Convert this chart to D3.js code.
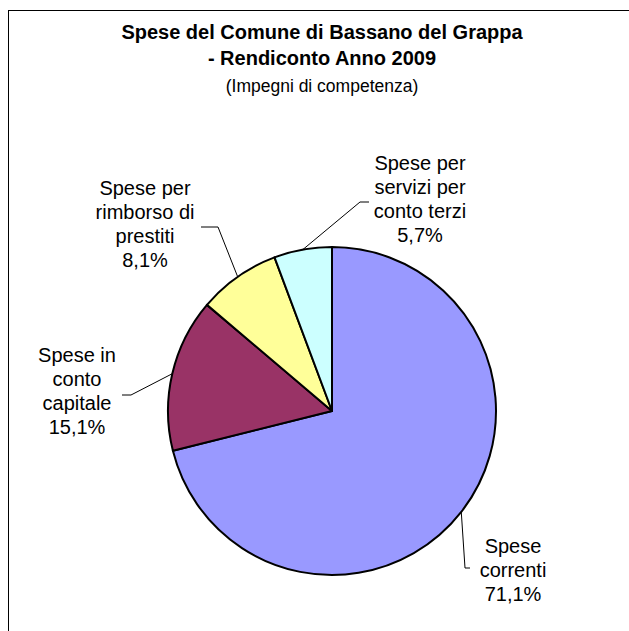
<!DOCTYPE html>
<html>
<head>
<meta charset="utf-8">
<script src="https://cdn.jsdelivr.net/npm/d3@7"></script>
<style>
  html, body { margin: 0; padding: 0; background: #fff; }
  svg { display: block; }
  text { font-family: "Liberation Sans", Arial, sans-serif; fill: #000; }
</style>
</head>
<body>
<svg id="chart" width="629" height="631"></svg>
<script>
// ---- data ----
const categories = [
  "Spese correnti",
  "Spese in conto capitale",
  "Spese per rimborso di prestiti",
  "Spese per servizi per conto terzi"
];
const values = [71.1, 15.1, 8.1, 5.7];
const labelLines = [
  ["Spese", "correnti"],
  ["Spese in", "conto", "capitale"],
  ["Spese per", "rimborso di", "prestiti"],
  ["Spese per", "servizi per", "conto terzi"]
];
const colors = ["#9999FF", "#993366", "#FFFF99", "#CCFFFF"];
const titleLines = ["Spese del Comune di Bassano del Grappa", "- Rendiconto Anno 2009"];
const subtitle = "(Impegni di competenza)";

// ---- layout ----
const W = 629, H = 631;
const cx = 332, cy = 411, R = 164;
const labelLayout = [
  { x: 513, y: 553, elbow: [465, 568], end: [470, 568] },
  { x: 77,  y: 362, elbow: [131, 395], end: [122, 395] },
  { x: 145, y: 195, elbow: [218, 227], end: [201, 227] },
  { x: 420, y: 170, elbow: [360, 202], end: [369, 202] }
];
const lineH = 24;
const labelFont = 20;

const svg = d3.select("#chart");

// border
svg.append("rect")
  .attr("x", 8.5).attr("y", 10.5)
  .attr("width", W + 20).attr("height", H + 20)
  .attr("fill", "none").attr("stroke", "#000").attr("stroke-width", 1);

// title
const title = svg.append("text").attr("text-anchor", "middle");
title.selectAll("tspan").data(titleLines).enter().append("tspan")
  .attr("x", 322).attr("y", (d, i) => 39 + i * 26)
  .attr("font-weight", "bold").attr("font-size", 20).text(d => d);
svg.append("text").attr("text-anchor", "middle")
  .attr("x", 322).attr("y", 92).attr("font-size", 17.5).text(subtitle);

// pie
const pie = d3.pie().sort(null).value(d => d).startAngle(0).endAngle(2 * Math.PI);
const arcs = pie(values);
const arc = d3.arc().innerRadius(0).outerRadius(R);
const g = svg.append("g").attr("transform", `translate(${cx},${cy})`);
g.selectAll("path").data(arcs).enter().append("path")
  .attr("d", arc)
  .attr("fill", (d, i) => colors[i])
  .attr("stroke", "#000").attr("stroke-width", 2).attr("stroke-linejoin", "round");

// leader lines + labels
const fmt = v => d3.format(".1f")(v).replace(".", ",") + "%";
arcs.forEach((a, i) => {
  const mid = (a.startAngle + a.endAngle) / 2;
  const sx = cx + R * Math.sin(mid), sy = cy - R * Math.cos(mid);
  const L = labelLayout[i];
  svg.append("polyline")
    .attr("points", [[sx, sy], L.elbow, L.end].map(p => p.join(",")).join(" "))
    .attr("fill", "none").attr("stroke", "#000").attr("stroke-width", 1);
  const t = svg.append("text").attr("text-anchor", "middle").attr("font-size", labelFont);
  const lines = labelLines[i].concat([fmt(values[i])]);
  t.selectAll("tspan").data(lines).enter().append("tspan")
    .attr("x", L.x).attr("y", (d, j) => L.y + j * lineH).text(d => d);
});
</script>
</body>
</html>
